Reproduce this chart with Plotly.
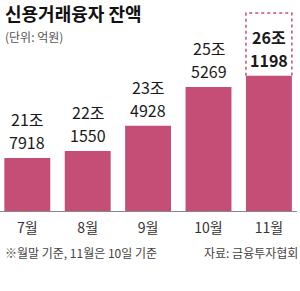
import plotly.graph_objects as go

months = ["7월", "8월", "9월", "10월", "11월"]
values = [217918, 221550, 234928, 255269, 261198]  # 억원
label_top = ["21조", "22조", "23조", "25조", "26조"]
label_bot = ["7918", "1550", "4928", "5269", "1198"]

title = "신용거래융자 잔액"
unit = "(단위: 억원)"
note = "※월말 기준, 11월은 10일 기준"
source = "자료: 금융투자협회"

PINK = "#c44e76"
FONT = "Liberation Sans Narrow, Noto Sans CJK KR, sans-serif"
xs = list(range(len(months)))

fig = go.Figure()
fig.add_trace(go.Bar(x=xs, y=values, width=0.76, marker=dict(color=PINK, line=dict(width=0)),
                     hoverinfo="skip"))

for i, (v, a, b) in enumerate(zip(values, label_top, label_bot)):
    last = i == len(values) - 1
    fa = f"<b>{a}</b>" if last else a
    fb = f"<b>{b}</b>" if last else b
    fig.add_annotation(x=i, y=v, text=fb, showarrow=False, yanchor="bottom", yshift=3,
                       borderpad=0, font=dict(size=16, color="#1a1a1a", family=FONT))
    fig.add_annotation(x=i, y=v, text=fa, showarrow=False, yanchor="bottom", yshift=26,
                       borderpad=0, font=dict(size=16, color="#1a1a1a", family=FONT))

# dotted highlight box on last bar
li = len(values) - 1
fig.add_shape(type="path",
              path=f"M {li-0.38},{values[li]} L {li-0.38},{values[li]+33000} L {li+0.38},{values[li]+33000} L {li+0.38},{values[li]}",
              line=dict(color=PINK, width=1.5, dash="dot"))

fig.add_annotation(xref="paper", yref="paper", x=0, y=1, xanchor="left", yanchor="top",
                   xshift=3, yshift=2, text=f"<b>{title}</b>", showarrow=False,
                   font=dict(size=18, color="#111", family="Noto Sans CJK KR"))
fig.add_annotation(xref="paper", yref="paper", x=0, y=1, xanchor="left", yanchor="top",
                   xshift=3, yshift=-26, text=unit, showarrow=False,
                   font=dict(size=12, color="#555", family="Noto Sans CJK KR"))
fig.add_annotation(xref="paper", yref="paper", x=0, y=-0.195, xanchor="left", yanchor="middle",
                   xshift=3, text=note, showarrow=False,
                   font=dict(size=12, color="#444", family="Noto Sans CJK KR"))
fig.add_annotation(xref="paper", yref="paper", x=1, y=-0.195, xanchor="right", yanchor="middle",
                   xshift=0, text=source, showarrow=False,
                   font=dict(size=12, color="#444", family="Noto Sans CJK KR"))

fig.update_layout(
    width=300, height=291, margin=dict(l=0, r=0, t=0, b=80),
    paper_bgcolor="white", plot_bgcolor="white", showlegend=False,
    xaxis=dict(domain=[0, 0.99], range=[-0.452, 4.465], tickvals=xs, ticktext=months,
               showline=True, linecolor="#888", linewidth=1, ticks="", showgrid=False,
               zeroline=False, ticklabelstandoff=4,
               tickfont=dict(size=14, color="#333", family="Noto Sans CJK KR")),
    yaxis=dict(range=[190000, 301050], visible=False, showgrid=False, zeroline=False),
)
fig.write_html("out.html")
